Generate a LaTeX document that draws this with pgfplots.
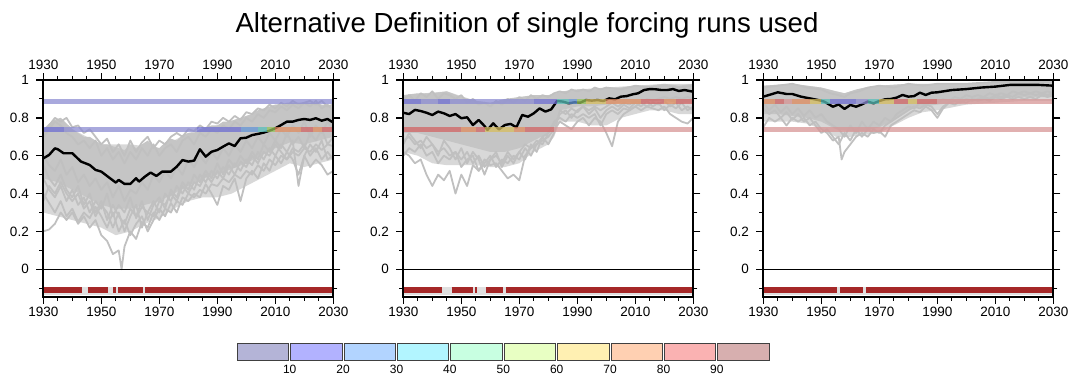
\documentclass[border=0pt]{standalone}
\usepackage{fontspec}
\setmainfont{Liberation Sans}
\usepackage{pgfplots}
\pgfplotsset{compat=1.18}

\definecolor{gline}{RGB}{192,192,192}
\definecolor{gcore}{RGB}{197,197,197}
\definecolor{gouter}{RGB}{216,216,216}
\definecolor{barred}{RGB}{165,40,40}
\definecolor{bLav}{RGB}{140,140,210}
\definecolor{bBlue}{RGB}{110,110,210}
\definecolor{bSteel}{RGB}{100,150,215}
\definecolor{bTeal}{RGB}{90,190,185}
\definecolor{bGreen}{RGB}{150,195,90}
\definecolor{bYel}{RGB}{215,190,95}
\definecolor{bOra}{RGB}{225,140,95}
\definecolor{bRed}{RGB}{210,100,100}
\definecolor{bPink}{RGB}{215,150,150}
\definecolor{cb1}{RGB}{180,180,215}
\definecolor{cb2}{RGB}{178,178,255}
\definecolor{cb3}{RGB}{178,212,255}
\definecolor{cb4}{RGB}{178,245,255}
\definecolor{cb5}{RGB}{200,255,225}
\definecolor{cb6}{RGB}{232,255,195}
\definecolor{cb7}{RGB}{255,240,178}
\definecolor{cb8}{RGB}{255,208,178}
\definecolor{cb9}{RGB}{250,178,178}
\definecolor{cb10}{RGB}{215,175,175}

\pgfplotsset{
  panel/.style={scale only axis, width=290pt, height=216.7pt, anchor=south west,
    xmin=1930, xmax=2030, ymin=-0.145, ymax=1,
    xtick={1930,1950,1970,1990,2010,2030},
    minor xtick={1935,1940,1945,1955,1960,1965,1975,1980,1985,1995,2000,2005,2015,2020,2025},
    ytick={0,0.2,0.4,0.6,0.8,1},
    minor ytick={-0.1,0.1,0.3,0.5,0.7,0.9},
    tick align=outside, major tick length=7pt, minor tick length=4pt,
    axis line style={line width=1.8pt},
    major tick style={line width=1.5pt, black},
    minor tick style={line width=1pt, black},
    tick label style={font=\fontsize{13.5}{14}\selectfont},
    yticklabel style={xshift=-4pt},
    /pgf/number format/assume math mode=true,
    xticklabel style={/pgf/number format/1000 sep={}},
    axis on top, unbounded coords=jump},
  gl/.style={gline, line width=1.8pt, line join=round},
  core/.style={fill=gcore, draw=none},
  outer/.style={fill=gouter, draw=none},
  blk/.style={black, line width=2.4pt, line join=round},
  bandst/.style={line width=5pt, opacity=0.75},
}
\newcommand{\band}[4]{\addplot[bandst,#1] coordinates {(#2,#4)(#3,#4)};}
\newcommand{\zeroline}{\addplot[black, line width=0.9pt] coordinates {(1930,0)(2030,0)};}
\newcommand{\topaxis}[1]{%
  \begin{axis}[panel, at={(#1,87.3pt)}, axis x line*=top, hide y axis]
    \addplot[draw=none] coordinates {(1930,0.5)};
  \end{axis}}

\begin{document}
\begin{tikzpicture}
\path (0,0) rectangle (1078pt,384pt);
\node[anchor=base, font=\fontsize{27.6}{28}\selectfont] at (527pt,352pt) {Alternative Definition of single forcing runs used};

% ---------------- Panel 1 ----------------
\begin{axis}[panel, at={(43.3pt,87.3pt)}]
\addplot[outer] coordinates {(1930,.74)(1936,.80)(1940,.74)(1950,.66)(1960,.66)(1970,.64)(1980,.72)(1990,.76)(2000,.81)(2010,.87)(2020,.88)(2030,.86)
 (2030,.58)(2025,.56)(2020,.54)(2015,.56)(2010,.52)(2005,.48)(2000,.44)(1995,.40)(1990,.38)(1985,.38)(1980,.36)(1975,.32)(1970,.27)(1965,.24)(1960,.20)(1955,.18)(1950,.22)(1940,.26)(1930,.30)} -- cycle;
\addplot[core] coordinates {(1930,.74)(1932,.77)(1934,.79)(1936,.80)(1938,.77)(1940,.74)(1942,.72)(1944,.70)(1946,.70)(1948,.68)(1950,.66)(1952,.66)(1954,.65)(1956,.64)(1958,.63)(1960,.66)(1962,.64)(1964,.66)(1966,.68)(1968,.65)(1970,.64)(1972,.67)(1974,.69)(1976,.68)(1978,.71)(1980,.72)(1982,.72)(1984,.74)(1986,.75)(1988,.76)(1990,.76)(1992,.78)(1994,.78)(1996,.79)(1998,.80)(2000,.81)(2002,.82)(2004,.84)(2006,.85)(2008,.86)(2010,.87)(2012,.87)(2014,.88)(2016,.88)(2018,.88)(2020,.88)(2022,.88)(2024,.88)(2026,.87)(2028,.87)(2030,.86)
 (2030,.70)(2025,.68)(2020,.66)(2015,.67)(2010,.64)(2005,.60)(2000,.56)(1995,.53)(1990,.50)(1985,.48)(1980,.44)(1975,.40)(1970,.36)(1965,.34)(1960,.32)(1955,.32)(1950,.34)(1945,.38)(1940,.42)(1935,.46)(1930,.48)} -- cycle;
\addplot[gl] coordinates {(1930,.20)(1932,.21)(1934,.24)(1936,.30)(1938,.26)(1940,.30)(1942,.24)(1944,.28)(1946,.22)(1948,.26)(1950,.18)(1952,.15)(1954,.08)(1956,.10)(1957,.00)(1958,.12)(1960,.20)(1962,.16)(1964,.25)(1966,.22)(1968,.30)(1970,.26)(1972,.32)(1974,.30)(1976,.36)(1978,.34)(1980,.40)(1982,.38)(1984,.42)(1986,.40)(1988,.45)(1990,.44)(1992,.48)(1994,.46)(1996,.50)(1998,.48)(2000,.52)(2002,.50)(2004,.55)(2006,.52)(2008,.58)(2010,.55)(2012,.60)(2014,.58)(2016,.62)(2018,.60)(2020,.64)(2022,.62)(2024,.66)(2026,.63)(2028,.66)(2030,.65)};
\addplot[gl] coordinates {(1930,.40)(1932,.35)(1934,.30)(1936,.36)(1938,.28)(1940,.32)(1942,.25)(1944,.30)(1946,.27)(1948,.33)(1950,.28)(1952,.22)(1954,.30)(1956,.20)(1958,.26)(1960,.18)(1962,.24)(1964,.28)(1966,.20)(1968,.26)(1970,.32)(1972,.28)(1974,.35)(1976,.30)(1978,.38)(1980,.36)(1982,.40)(1984,.38)(1986,.45)(1988,.40)(1990,.34)(1992,.44)(1994,.42)(1996,.48)(1998,.36)(2000,.48)(2002,.52)(2004,.48)(2006,.56)(2008,.52)(2010,.60)(2012,.56)(2014,.62)(2016,.58)(2018,.50)(2020,.60)(2022,.54)(2024,.58)(2026,.55)(2028,.50)(2030,.52)};
\addplot[gl] coordinates {(1930,.48)(1932,.42)(1934,.38)(1936,.44)(1938,.36)(1940,.42)(1942,.34)(1944,.38)(1946,.30)(1948,.36)(1950,.32)(1952,.40)(1954,.28)(1956,.34)(1958,.30)(1960,.38)(1962,.27)(1964,.33)(1966,.30)(1968,.36)(1970,.30)(1972,.40)(1974,.36)(1976,.44)(1978,.40)(1980,.46)(1982,.42)(1984,.50)(1986,.46)(1988,.52)(1990,.48)(1992,.54)(1994,.50)(1996,.56)(1998,.52)(2000,.58)(2002,.55)(2004,.62)(2006,.58)(2008,.64)(2010,.60)(2012,.66)(2014,.62)(2016,.68)(2018,.44)(2020,.60)(2022,.66)(2024,.62)(2026,.68)(2028,.58)(2030,.60)};
\addplot[gl] coordinates {(1930,.70)(1932,.74)(1934,.78)(1936,.76)(1938,.72)(1940,.70)(1942,.66)(1944,.68)(1946,.64)(1948,.68)(1950,.60)(1952,.64)(1954,.58)(1956,.62)(1958,.56)(1960,.62)(1962,.58)(1964,.64)(1966,.60)(1968,.66)(1970,.60)(1972,.64)(1974,.66)(1976,.62)(1978,.68)(1980,.70)(1982,.66)(1984,.72)(1986,.70)(1988,.74)(1990,.72)(1992,.76)(1994,.74)(1996,.78)(1998,.76)(2000,.80)(2002,.78)(2004,.82)(2006,.80)(2008,.84)(2010,.83)(2012,.86)(2014,.84)(2016,.87)(2018,.85)(2020,.88)(2022,.86)(2024,.89)(2026,.85)(2028,.87)(2030,.84)};
\addplot[gl] coordinates {(1930,.60)(1932,.55)(1934,.52)(1936,.58)(1938,.50)(1940,.54)(1942,.46)(1944,.50)(1946,.44)(1948,.48)(1950,.42)(1952,.46)(1954,.38)(1956,.44)(1958,.36)(1960,.42)(1962,.40)(1964,.46)(1966,.42)(1968,.50)(1970,.46)(1972,.52)(1974,.48)(1976,.54)(1978,.50)(1980,.58)(1982,.54)(1984,.60)(1986,.56)(1988,.62)(1990,.58)(1992,.64)(1994,.60)(1996,.66)(1998,.62)(2000,.68)(2002,.64)(2004,.70)(2006,.66)(2008,.72)(2010,.68)(2012,.74)(2014,.70)(2016,.76)(2018,.72)(2020,.78)(2022,.70)(2024,.76)(2026,.72)(2028,.78)(2030,.74)};
\addplot[gl] coordinates {(1930,.72)(1932,.76)(1934,.80)(1936,.78)(1938,.80)(1940,.75)(1942,.76)(1944,.72)(1946,.74)(1948,.70)(1950,.66)(1952,.69)(1954,.62)(1956,.66)(1958,.60)(1960,.68)(1962,.62)(1964,.67)(1966,.70)(1968,.64)(1970,.68)(1972,.66)(1974,.70)(1976,.72)(1978,.70)(1980,.74)(1982,.73)(1984,.76)(1986,.74)(1988,.78)(1990,.77)(1992,.80)(1994,.78)(1996,.81)(1998,.79)(2000,.83)(2002,.82)(2004,.85)(2006,.84)(2008,.87)(2010,.85)(2012,.88)(2014,.86)(2016,.89)(2018,.87)(2020,.88)(2022,.89)(2024,.87)(2026,.89)(2028,.86)(2030,.87)};
\addplot[gl] coordinates {(1930,.55)(1932,.48)(1934,.44)(1936,.50)(1938,.42)(1940,.38)(1942,.44)(1944,.34)(1946,.40)(1948,.30)(1950,.36)(1952,.26)(1954,.34)(1956,.28)(1958,.24)(1960,.32)(1962,.28)(1964,.36)(1966,.26)(1968,.34)(1970,.38)(1972,.32)(1974,.42)(1976,.38)(1978,.46)(1980,.42)(1982,.50)(1984,.46)(1986,.52)(1988,.48)(1990,.56)(1992,.50)(1994,.58)(1996,.54)(1998,.60)(2000,.56)(2002,.62)(2004,.58)(2006,.66)(2008,.62)(2010,.68)(2012,.64)(2014,.72)(2016,.66)(2018,.70)(2020,.64)(2022,.72)(2024,.68)(2026,.74)(2028,.66)(2030,.70)};
\addplot[gl] coordinates {(1930,.36)(1932,.44)(1934,.40)(1936,.46)(1938,.40)(1940,.36)(1942,.40)(1944,.32)(1946,.36)(1948,.28)(1950,.34)(1952,.30)(1954,.22)(1956,.30)(1958,.20)(1960,.28)(1962,.34)(1964,.22)(1966,.30)(1968,.28)(1970,.36)(1972,.34)(1974,.40)(1976,.36)(1978,.44)(1980,.40)(1982,.46)(1984,.44)(1986,.50)(1988,.46)(1990,.52)(1992,.48)(1994,.55)(1996,.50)(1998,.57)(2000,.54)(2002,.60)(2004,.56)(2006,.62)(2008,.60)(2010,.66)(2012,.62)(2014,.58)(2016,.64)(2018,.62)(2020,.66)(2022,.60)(2024,.64)(2026,.58)(2028,.62)(2030,.58)};
\addplot[blk] coordinates {(1930,.586)(1932,.604)(1934,.639)(1935,.634)(1937,.613)(1940,.613)(1943,.569)(1946,.551)(1948,.525)(1950,.516)(1953,.481)(1955,.458)(1956,.472)(1958,.451)(1960,.451)(1962,.481)(1963,.463)(1965,.489)(1967,.511)(1969,.493)(1971,.516)(1974,.516)(1976,.542)(1978,.577)(1980,.569)(1982,.574)(1984,.634)(1986,.595)(1988,.621)(1990,.630)(1992,.648)(1994,.665)(1996,.651)(1998,.692)(2000,.695)(2002,.709)(2004,.715)(2006,.722)(2008,.732)(2010,.745)(2012,.762)(2014,.780)(2016,.780)(2018,.789)(2020,.794)(2022,.789)(2024,.798)(2026,.785)(2028,.794)(2030,.775)};
\band{bLav}{1930}{2030}{0.887}
\band{bBlue}{1930}{1937}{0.738}
\band{bLav}{1937}{1983}{0.738}
\band{bBlue}{1983}{1998}{0.738}
\band{bSteel}{1998}{2004}{0.738}
\band{bTeal}{2004}{2007}{0.738}
\band{bGreen}{2007}{2010}{0.738}
\band{bOra}{2010}{2019}{0.738}
\band{bRed}{2019}{2023}{0.738}
\band{bOra}{2023}{2026}{0.738}
\band{bRed}{2026}{2030}{0.738}
\zeroline
\addplot[black!12, line width=8pt] coordinates {(1930,-0.113)(2030,-0.113)};
\addplot[barred, line width=6pt] coordinates {(1930,-0.11)(1943.2,-0.11)(1943.2,nan)(1945.3,-0.11)(1952.2,-0.11)(1952.2,nan)(1954.1,-0.11)(1955,-0.11)(1955,nan)(1955.9,-0.11)(1964.5,-0.11)(1964.5,nan)(1965.2,-0.11)(2030,-0.11)};
\end{axis}
\topaxis{43.3pt}

% ---------------- Panel 2 ----------------
\begin{axis}[panel, at={(403.3pt,87.3pt)}]
\addplot[outer] coordinates {(1930,.92)(1945,.94)(1955,.89)(1960,.88)(1970,.91)(1980,.92)(1985,.94)(1990,.95)(2000,.96)(2010,.97)(2020,.98)(2030,.98)
 (2030,.82)(2025,.82)(2020,.84)(2015,.84)(2010,.82)(2005,.80)(2000,.76)(1995,.76)(1990,.78)(1984,.78)(1982,.70)(1980,.66)(1975,.62)(1970,.56)(1965,.54)(1960,.54)(1955,.55)(1950,.55)(1945,.55)(1940,.56)(1935,.60)(1930,.62)} -- cycle;
\addplot[core] coordinates {(1930,.92)(1935,.93)(1940,.93)(1945,.94)(1950,.91)(1955,.89)(1960,.88)(1965,.90)(1970,.91)(1975,.92)(1980,.92)(1983,.93)(1985,.94)(1990,.95)(1995,.95)(2000,.96)(2005,.96)(2010,.97)(2015,.97)(2020,.98)(2025,.97)(2030,.98)
 (2030,.88)(2025,.88)(2020,.89)(2015,.89)(2010,.88)(2005,.88)(2000,.87)(1995,.86)(1990,.86)(1984,.84)(1982,.76)(1980,.72)(1975,.68)(1970,.64)(1965,.62)(1960,.62)(1955,.64)(1950,.66)(1945,.68)(1940,.70)(1935,.72)(1930,.72)} -- cycle;
\addplot[gl] coordinates {(1930,.62)(1932,.60)(1934,.56)(1936,.58)(1938,.50)(1940,.44)(1942,.50)(1944,.47)(1946,.52)(1948,.40)(1950,.50)(1952,.44)(1954,.55)(1956,.52)(1958,.58)(1960,.55)(1962,.56)(1964,.52)(1966,.48)(1968,.50)(1970,.47)(1972,.60)(1974,.64)(1976,.66)(1978,.70)(1980,.72)(1982,.76)(1984,.82)(1986,.84)(1988,.80)(1990,.84)(1992,.86)(1994,.84)(1996,.86)(1998,.84)(2000,.86)(2002,.88)(2004,.86)(2006,.88)(2008,.87)(2010,.89)(2012,.88)(2014,.90)(2016,.89)(2018,.90)(2020,.91)(2022,.90)(2024,.91)(2026,.90)(2028,.91)(2030,.90)};
\addplot[gl] coordinates {(1930,.60)(1932,.64)(1934,.62)(1936,.66)(1938,.60)(1940,.62)(1942,.56)(1944,.60)(1946,.58)(1948,.62)(1950,.54)(1952,.58)(1954,.60)(1956,.52)(1958,.56)(1960,.60)(1962,.54)(1964,.58)(1966,.56)(1968,.60)(1970,.58)(1972,.64)(1974,.60)(1976,.66)(1978,.68)(1980,.70)(1982,.74)(1984,.78)(1986,.76)(1988,.74)(1990,.78)(1992,.80)(1994,.76)(1996,.80)(1998,.78)(2000,.72)(2002,.65)(2004,.78)(2006,.82)(2008,.84)(2010,.86)(2012,.84)(2014,.86)(2016,.85)(2018,.84)(2020,.86)(2022,.82)(2024,.80)(2026,.78)(2028,.77)(2030,.80)};
\addplot[gl] coordinates {(1930,.68)(1932,.70)(1934,.66)(1936,.68)(1938,.64)(1940,.66)(1942,.62)(1944,.64)(1946,.60)(1948,.62)(1950,.58)(1952,.62)(1954,.56)(1956,.60)(1958,.54)(1960,.58)(1962,.60)(1964,.56)(1966,.62)(1968,.58)(1970,.62)(1972,.66)(1974,.64)(1976,.68)(1978,.66)(1980,.72)(1982,.78)(1984,.80)(1986,.78)(1988,.82)(1990,.80)(1992,.82)(1994,.80)(1996,.82)(1998,.76)(2000,.82)(2002,.84)(2004,.82)(2006,.85)(2008,.84)(2010,.86)(2012,.88)(2014,.86)(2016,.88)(2018,.87)(2020,.89)(2022,.86)(2024,.88)(2026,.84)(2028,.86)(2030,.84)};
\addplot[gl] coordinates {(1930,.90)(1932,.92)(1934,.89)(1936,.93)(1938,.91)(1940,.94)(1942,.90)(1944,.93)(1946,.92)(1948,.90)(1950,.92)(1952,.88)(1954,.90)(1956,.87)(1958,.88)(1960,.86)(1962,.89)(1964,.87)(1966,.90)(1968,.88)(1970,.91)(1972,.89)(1974,.92)(1976,.90)(1978,.92)(1980,.91)(1982,.93)(1984,.94)(1986,.93)(1988,.95)(1990,.94)(1992,.95)(1994,.94)(1996,.96)(1998,.95)(2000,.96)(2005,.95)(2010,.97)(2015,.96)(2020,.97)(2025,.96)(2030,.97)};
\addplot[gl] coordinates {(1930,.66)(1932,.72)(1934,.68)(1936,.64)(1938,.70)(1940,.66)(1942,.60)(1944,.68)(1946,.64)(1948,.58)(1950,.64)(1952,.56)(1954,.62)(1956,.58)(1958,.50)(1960,.58)(1962,.62)(1964,.54)(1966,.60)(1968,.56)(1970,.62)(1972,.58)(1974,.66)(1976,.62)(1978,.70)(1980,.66)(1982,.72)(1984,.84)(1986,.82)(1988,.85)(1990,.83)(1992,.86)(1994,.82)(1996,.85)(1998,.80)(2000,.84)(2002,.86)(2004,.84)(2006,.87)(2008,.85)(2010,.88)(2012,.86)(2014,.89)(2016,.86)(2018,.88)(2020,.84)(2022,.87)(2024,.85)(2026,.88)(2028,.84)(2030,.86)};
\addplot[blk] coordinates {(1930,.827)(1932,.820)(1934,.842)(1936,.836)(1938,.827)(1940,.815)(1942,.833)(1944,.824)(1946,.810)(1948,.820)(1950,.798)(1952,.803)(1954,.762)(1956,.789)(1958,.757)(1959,.736)(1961,.771)(1963,.739)(1965,.762)(1967,.768)(1969,.750)(1971,.815)(1973,.806)(1975,.824)(1977,.850)(1979,.833)(1981,.845)(1983,.889)(1985,.886)(1987,.877)(1989,.882)(1991,.880)(1993,.894)(1995,.891)(1997,.894)(1999,.889)(2001,.903)(2003,.898)(2005,.912)(2007,.915)(2009,.924)(2011,.930)(2013,.947)(2015,.952)(2017,.951)(2019,.947)(2021,.947)(2023,.952)(2025,.942)(2027,.947)(2030,.938)};
\band{bBlue}{1930}{1936}{0.887}
\band{bLav}{1936}{1942}{0.887}
\band{bBlue}{1942}{1946}{0.887}
\band{bLav}{1946}{1975}{0.887}
\band{bBlue}{1975}{1983}{0.887}
\band{bTeal}{1983}{1987}{0.887}
\band{bSteel}{1987}{1990}{0.887}
\band{bGreen}{1990}{1993}{0.887}
\band{bYel}{1993}{2000}{0.887}
\band{bOra}{2000}{2012}{0.887}
\band{bRed}{2012}{2020}{0.887}
\band{bOra}{2020}{2024}{0.887}
\band{bRed}{2024}{2030}{0.887}
\band{bRed}{1930}{1950}{0.738}
\band{bOra}{1950}{1955}{0.738}
\band{bRed}{1955}{1958}{0.738}
\band{bYel}{1958}{1968}{0.738}
\band{bOra}{1968}{1972}{0.738}
\band{bRed}{1972}{1982}{0.738}
\band{bPink}{1982}{2030}{0.738}
\zeroline
\addplot[black!12, line width=8pt] coordinates {(1930,-0.113)(2030,-0.113)};
\addplot[barred, line width=6pt] coordinates {(1930,-0.11)(1943.2,-0.11)(1943.2,nan)(1946.7,-0.11)(1954,-0.11)(1954,nan)(1954.8,-0.11)(1955.4,-0.11)(1955.4,nan)(1958.5,-0.11)(1964.3,-0.11)(1964.3,nan)(1965.3,-0.11)(2030,-0.11)};
\end{axis}
\topaxis{403.3pt}

% ---------------- Panel 3 ----------------
\begin{axis}[panel, at={(763.3pt,87.3pt)}]
\addplot[outer] coordinates {(1930,.97)(1940,.98)(1950,.96)(1958,.93)(1965,.96)(1970,.97)(1980,.98)(2000,.98)(2010,.99)(2030,.99)
 (2030,.89)(2020,.89)(2010,.88)(2000,.87)(1990,.84)(1985,.83)(1980,.80)(1975,.76)(1970,.72)(1965,.71)(1960,.70)(1955,.70)(1950,.74)(1945,.77)(1940,.78)(1930,.78)} -- cycle;
\addplot[core] coordinates {(1930,.97)(1940,.98)(1945,.97)(1950,.96)(1955,.94)(1958,.93)(1962,.95)(1965,.96)(1970,.97)(1980,.98)(1990,.98)(2000,.98)(2010,.99)(2020,.99)(2030,.99)
 (2030,.91)(2025,.91)(2020,.91)(2015,.91)(2010,.90)(2005,.89)(2000,.89)(1995,.88)(1990,.87)(1985,.86)(1980,.84)(1975,.79)(1970,.75)(1965,.73)(1960,.73)(1955,.74)(1950,.78)(1945,.80)(1940,.81)(1935,.82)(1930,.82)} -- cycle;
\addplot[gl] coordinates {(1930,.75)(1932,.80)(1934,.78)(1936,.80)(1938,.76)(1940,.80)(1942,.78)(1944,.80)(1946,.76)(1948,.78)(1950,.74)(1952,.72)(1954,.68)(1956,.70)(1957,.58)(1958,.62)(1960,.66)(1962,.70)(1964,.72)(1966,.70)(1968,.74)(1970,.72)(1972,.76)(1974,.78)(1976,.80)(1978,.82)(1980,.84)(1982,.86)(1984,.85)(1986,.87)(1988,.86)(1990,.82)(1992,.86)(1994,.88)(1996,.87)(1998,.89)(2000,.88)(2002,.90)(2004,.89)(2006,.90)(2008,.89)(2010,.91)(2012,.90)(2014,.91)(2016,.90)(2018,.91)(2020,.90)(2022,.91)(2024,.90)(2026,.92)(2028,.91)(2030,.92)};
\addplot[gl] coordinates {(1930,.85)(1932,.82)(1934,.84)(1936,.80)(1938,.83)(1940,.79)(1942,.82)(1944,.78)(1946,.80)(1948,.76)(1950,.72)(1952,.74)(1954,.70)(1956,.66)(1958,.72)(1960,.68)(1962,.74)(1964,.70)(1966,.74)(1968,.72)(1970,.73)(1972,.70)(1974,.76)(1976,.78)(1978,.80)(1980,.82)(1982,.84)(1984,.83)(1986,.86)(1988,.84)(1990,.80)(1992,.85)(1994,.88)(1996,.89)(1998,.88)(2000,.90)(2002,.89)(2004,.90)(2006,.91)(2008,.90)(2010,.92)(2012,.91)(2014,.92)(2016,.91)(2018,.93)(2020,.92)(2022,.93)(2024,.92)(2026,.93)(2028,.92)(2030,.93)};
\addplot[gl] coordinates {(1930,.88)(1932,.84)(1934,.87)(1936,.83)(1938,.86)(1940,.82)(1942,.85)(1944,.81)(1946,.84)(1948,.80)(1950,.82)(1952,.78)(1954,.76)(1956,.74)(1958,.70)(1960,.76)(1962,.72)(1964,.78)(1966,.74)(1968,.78)(1970,.76)(1972,.80)(1974,.78)(1976,.82)(1978,.84)(1980,.86)(1982,.85)(1984,.88)(1986,.87)(1988,.89)(1990,.88)(1992,.90)(1994,.89)(1996,.91)(1998,.90)(2000,.92)(2002,.91)(2004,.92)(2006,.91)(2008,.93)(2010,.92)(2012,.93)(2014,.92)(2016,.94)(2018,.93)(2020,.94)(2022,.93)(2024,.94)(2026,.93)(2028,.94)(2030,.93)};
\addplot[gl] coordinates {(1930,.96)(1935,.97)(1940,.98)(1945,.96)(1950,.95)(1953,.93)(1956,.92)(1958,.91)(1960,.93)(1963,.94)(1966,.96)(1970,.97)(1975,.96)(1980,.98)(1985,.97)(1990,.98)(2000,.98)(2010,.99)(2020,.99)(2030,.99)};
\addplot[blk] coordinates {(1930,.912)(1932,.921)(1935,.935)(1938,.926)(1940,.926)(1943,.912)(1946,.903)(1949,.894)(1951,.886)(1953,.868)(1954,.859)(1956,.871)(1958,.847)(1960,.868)(1962,.859)(1964,.871)(1966,.886)(1968,.877)(1970,.889)(1972,.898)(1974,.900)(1976,.907)(1978,.921)(1980,.912)(1982,.915)(1984,.933)(1986,.921)(1988,.933)(1990,.935)(1995,.947)(2000,.952)(2005,.960)(2010,.965)(2015,.974)(2020,.974)(2025,.974)(2030,.970)};
\band{bOra}{1930}{1934}{0.887}
\band{bRed}{1934}{1937}{0.887}
\band{bPink}{1937}{1940}{0.887}
\band{bOra}{1940}{1946}{0.887}
\band{bYel}{1946}{1950}{0.887}
\band{bTeal}{1950}{1953}{0.887}
\band{bBlue}{1953}{1962}{0.887}
\band{bLav}{1962}{1966}{0.887}
\band{bTeal}{1966}{1970}{0.887}
\band{bYel}{1970}{1975}{0.887}
\band{bRed}{1975}{1980}{0.887}
\band{bYel}{1980}{1983}{0.887}
\band{bRed}{1983}{1990}{0.887}
\band{bPink}{1990}{2030}{0.887}
\band{bPink}{1930}{2030}{0.738}
\zeroline
\addplot[black!12, line width=8pt] coordinates {(1930,-0.113)(2030,-0.113)};
\addplot[barred, line width=6pt] coordinates {(1930,-0.11)(1955.3,-0.11)(1955.3,nan)(1956.4,-0.11)(1964.5,-0.11)(1964.5,nan)(1965.4,-0.11)(2030,-0.11)};
\end{axis}
\topaxis{763.3pt}

% ---------------- Colour bar ----------------
\begin{axis}[at={(236.3pt,23.7pt)}, anchor=south west, scale only axis, width=534pt, height=17.3pt,
  xmin=0, xmax=100, ymin=0, ymax=1, axis line style={draw=none}, ytick=\empty,
  xtick={10,20,30,40,50,60,70,80,90}, xtick style={draw=none},
  xticklabel style={font=\fontsize{12}{12}\selectfont, yshift=-1pt},
  /pgf/number format/assume math mode=true]
\addplot[fill=cb1, draw=black!75, line width=1pt] coordinates {(0.2,0)(9.8,0)(9.8,1)(0.2,1)} -- cycle;
\addplot[fill=cb2, draw=black!75, line width=1pt] coordinates {(10.2,0)(19.8,0)(19.8,1)(10.2,1)} -- cycle;
\addplot[fill=cb3, draw=black!75, line width=1pt] coordinates {(20.2,0)(29.8,0)(29.8,1)(20.2,1)} -- cycle;
\addplot[fill=cb4, draw=black!75, line width=1pt] coordinates {(30.2,0)(39.8,0)(39.8,1)(30.2,1)} -- cycle;
\addplot[fill=cb5, draw=black!75, line width=1pt] coordinates {(40.2,0)(49.8,0)(49.8,1)(40.2,1)} -- cycle;
\addplot[fill=cb6, draw=black!75, line width=1pt] coordinates {(50.2,0)(59.8,0)(59.8,1)(50.2,1)} -- cycle;
\addplot[fill=cb7, draw=black!75, line width=1pt] coordinates {(60.2,0)(69.8,0)(69.8,1)(60.2,1)} -- cycle;
\addplot[fill=cb8, draw=black!75, line width=1pt] coordinates {(70.2,0)(79.8,0)(79.8,1)(70.2,1)} -- cycle;
\addplot[fill=cb9, draw=black!75, line width=1pt] coordinates {(80.2,0)(89.8,0)(89.8,1)(80.2,1)} -- cycle;
\addplot[fill=cb10, draw=black!75, line width=1pt] coordinates {(90.2,0)(99.8,0)(99.8,1)(90.2,1)} -- cycle;
\end{axis}
\end{tikzpicture}
\end{document}
